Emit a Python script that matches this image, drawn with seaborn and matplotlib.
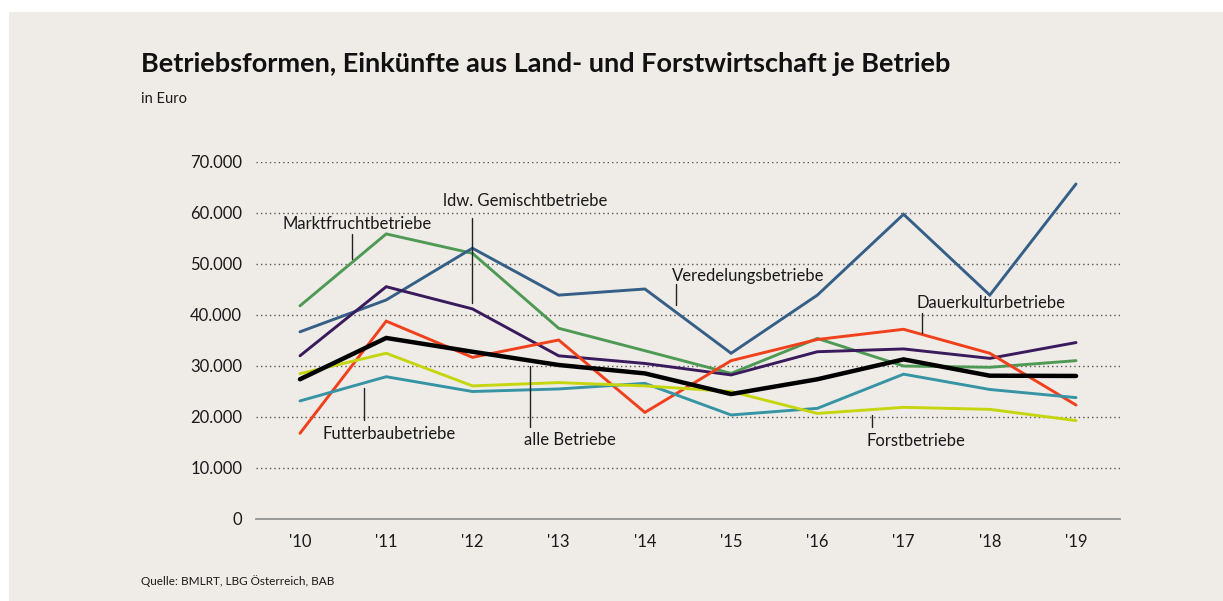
import matplotlib
matplotlib.use("Agg")
import matplotlib.pyplot as plt
import matplotlib.patches as mpatches
import pandas as pd
import seaborn as sns

# Jahre und Einkünfte je Betrieb (Euro)
years = ["'10", "'11", "'12", "'13", "'14", "'15", "'16", "'17", "'18", "'19"]

marktfrucht = [41700, 55800, 52000, 37300, 32900, 28450, 35300, 29900, 29650, 30950]
veredelung = [36600, 42850, 53000, 43800, 45000, 32400, 43800, 59650, 43800, 65600]
gemischt = [31900, 45450, 41100, 31900, 30400, 28150, 32700, 33250, 31400, 34500]
dauerkultur = [16700, 38700, 31600, 35000, 20800, 30950, 35100, 37100, 32400, 22250]
futterbau = [23050, 27800, 24900, 25400, 26500, 20300, 21600, 28300, 25300, 23700]
forst = [28400, 32400, 26000, 26650, 26000, 24900, 20600, 21800, 21400, 19200]
alle = [27300, 35400, 32700, 30100, 28450, 24400, 27300, 31200, 28000, 27950]

series_names = ["Marktfruchtbetriebe", "Veredelungsbetriebe", "ldw. Gemischtbetriebe",
                "Dauerkulturbetriebe", "Futterbaubetriebe", "Forstbetriebe", "alle Betriebe"]
series_values = [marktfrucht, veredelung, gemischt, dauerkultur, futterbau, forst, alle]

y_ticks = [0, 10000, 20000, 30000, 40000, 50000, 60000, 70000]
y_tick_labels = ["0", "10.000", "20.000", "30.000", "40.000", "50.000", "60.000", "70.000"]

palette = {
    "Marktfruchtbetriebe": "#4e9a55",
    "Veredelungsbetriebe": "#355f86",
    "ldw. Gemischtbetriebe": "#3a1a5c",
    "Dauerkulturbetriebe": "#f1401c",
    "Futterbaubetriebe": "#3794a5",
    "Forstbetriebe": "#c6d60e",
    "alle Betriebe": "#000000",
}

rows = []
for name, vals in zip(series_names, series_values):
    for i, (yr, v) in enumerate(zip(years, vals)):
        rows.append({"Betriebsform": name, "pos": i, "Jahr": yr, "Euro": v})
df = pd.DataFrame(rows)

sns.set_theme(style="white")
plt.rcParams["font.family"] = ["Lato", "DejaVu Sans"]

BG = "#efece8"
TEXT = "#1a1a1a"

fig = plt.figure(figsize=(12.23, 6.01), dpi=100, facecolor="white")
fig.patches.append(mpatches.Rectangle((9 / 1223, 0), 1 - 9 / 1223, 1 - 12 / 601,
                                      transform=fig.transFigure, facecolor=BG,
                                      edgecolor="none", zorder=-10))

ax = fig.add_axes([256 / 1223, (601 - 518.5) / 601, 864 / 1223, 357 / 601])
ax.set_facecolor("none")

colored = df[df["Betriebsform"] != "alle Betriebe"]
sns.lineplot(data=colored, x="pos", y="Euro", hue="Betriebsform", palette=palette,
             hue_order=series_names[:-1], linewidth=2.1, legend=False, ax=ax,
             estimator=None, sort=False)
sns.lineplot(data=df[df["Betriebsform"] == "alle Betriebe"], x="pos", y="Euro",
             color=palette["alle Betriebe"], linewidth=3.2, legend=False, ax=ax,
             estimator=None, sort=False)
for line in ax.lines:
    line.set_solid_joinstyle("miter")

ax.set_xlim(-0.51, 9.51)
ax.set_ylim(0, 70000)
ax.set_xticks(range(len(years)))
ax.set_xticklabels(years, fontsize=12, color=TEXT)
ax.set_yticks(y_ticks)
ax.set_yticklabels(y_tick_labels, fontsize=12, color=TEXT)
ax.tick_params(axis="both", length=0)
ax.tick_params(axis="x", pad=11)
ax.tick_params(axis="y", pad=10)
ax.set_xlabel("")
ax.set_ylabel("")

for v in y_ticks[1:]:
    ax.axhline(v, color="#555555", linestyle=(0, (1, 2.2)), linewidth=1.0, zorder=0)

for s in ["top", "right", "left"]:
    ax.spines[s].set_visible(False)
ax.spines["bottom"].set_color("#8a8a8a")
ax.spines["bottom"].set_linewidth(1.2)


# Beschriftungen mit Hinweisstrichen (Positionen in Pixeln der Abbildung)
def label(text, tx, ty, lx, ly0, ly1):
    fig.text(tx / 1223, 1 - ty / 601, text, ha="left", va="center",
             fontsize=12, color=TEXT)
    fig.add_artist(plt.Line2D([lx / 1223, lx / 1223], [1 - ly0 / 601, 1 - ly1 / 601],
                              color="#222222", linewidth=1.0))


label("Marktfruchtbetriebe", 282, 224, 352, 234, 259)
label("ldw. Gemischtbetriebe", 443, 201, 472, 218, 303)
label("Veredelungsbetriebe", 672, 276, 676, 284, 305)
label("Dauerkulturbetriebe", 916, 303, 922, 313, 333)
label("Futterbaubetriebe", 323, 434, 364, 388, 420)
label("alle Betriebe", 524, 440, 530, 366, 427)
label("Forstbetriebe", 867, 441, 872, 415, 427)

fig.text(141 / 1223, 1 - 64 / 601, "Betriebsformen, Einkünfte aus Land- und Forstwirtschaft je Betrieb",
         fontsize=19.5, fontweight="bold", color="#111111", ha="left", va="center")
fig.text(141 / 1223, 1 - 99 / 601, "in Euro", fontsize=10.5, color=TEXT, ha="left", va="center")
fig.text(141 / 1223, 1 - 581 / 601, "Quelle: BMLRT, LBG Österreich, BAB", fontsize=8.5,
         color=TEXT, ha="left", va="center")

fig.savefig("out.png", dpi=100, facecolor=fig.get_facecolor())
